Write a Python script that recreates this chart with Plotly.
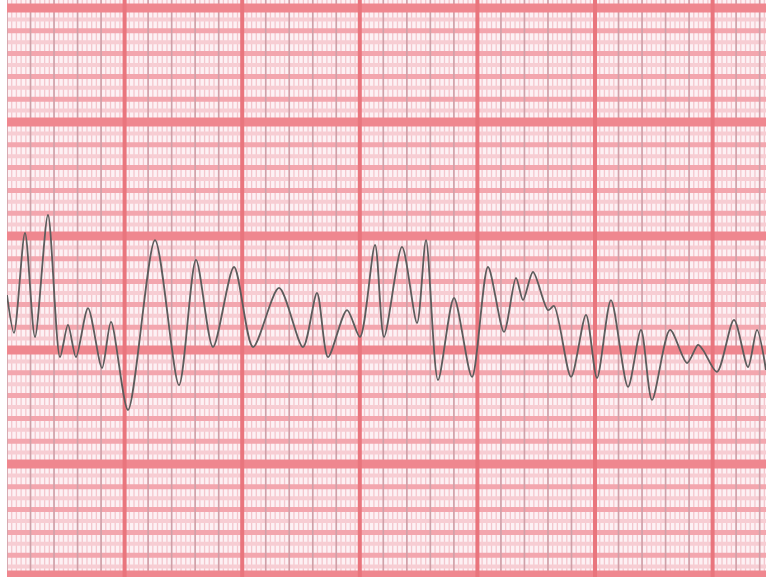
import numpy as np
import plotly.graph_objects as go

# Rhythm strip: turning points of the trace (time in s, amplitude in mV)
time_s = [0.0000, 0.0119, 0.0306, 0.0476, 0.0697, 0.0901, 0.1037, 0.1173, 0.1378,
          0.1616, 0.1769, 0.2058, 0.2517, 0.2925, 0.3214, 0.3503, 0.3861, 0.4184,
          0.4626, 0.5034, 0.5272, 0.5459, 0.5782, 0.6003, 0.6259, 0.6412, 0.6718,
          0.6973, 0.7126, 0.7330, 0.7602, 0.7908, 0.8180, 0.8452, 0.8656, 0.8776,
          0.8946, 0.9201, 0.9303, 0.9592, 0.9847, 1.0034, 1.0272, 1.0561, 1.0782,
          1.0969, 1.1276, 1.1565, 1.1752, 1.1837, 1.2075, 1.2364, 1.2602, 1.2755,
          1.2908]
amp_mv = [0.241, 0.075, 0.513, 0.057, 0.592, -0.031, 0.110, -0.031, 0.184,
          -0.079, 0.123, -0.263, 0.482, -0.154, 0.395, 0.013, 0.364, 0.013,
          0.272, 0.013, 0.250, -0.031, 0.175, 0.057, 0.461, 0.057, 0.452,
          0.118, 0.482, -0.132, 0.228, -0.118, 0.364, 0.079, 0.316, 0.219,
          0.342, 0.175, 0.193, -0.118, 0.154, -0.123, 0.219, -0.162, 0.088,
          -0.219, 0.088, -0.057, 0.022, 0.000, -0.096, 0.132, -0.075, 0.088,
          -0.088]

# Paper grid spacing (25 mm/s, 10 mm/mV)
major_t, minor_t, fine_t = 0.2, 0.04, 0.008
major_v, minor_v = 0.5, 0.1

x_range = [0.0, 1.2908]
y_range = [-0.9957, 1.535]

shapes = []


def vline(x, color, width):
    shapes.append(dict(type="line", xref="x", yref="y", x0=x, x1=x,
                       y0=y_range[0] - 0.1, y1=y_range[1] + 0.1,
                       line=dict(color=color, width=width), layer="below"))


def hline(y, color, width):
    shapes.append(dict(type="line", xref="x", yref="y", y0=y, y1=y,
                       x0=x_range[0] - 0.05, x1=x_range[1] + 0.05,
                       line=dict(color=color, width=width), layer="below"))


# finest vertical stripes
for x in np.arange(0, x_range[1] + 1e-9, fine_t):
    vline(x, "#f4c6cd", 1.3)

# half-millimetre horizontal bands
for y in np.arange(-1.0 + minor_v / 2, y_range[1], minor_v):
    hline(y, "#f7cdd3", 4)

# millimetre horizontal bands
for y in np.arange(-1.0, y_range[1] + 0.05, minor_v):
    hline(round(y, 3), "#f3a6ae", 5)

# millimetre vertical lines
for x in np.arange(0, x_range[1] + 1e-9, minor_t):
    vline(x, "#cfa0a8", 1.6)

# 5 mm horizontal lines
for y in np.arange(-1.0, y_range[1] + 0.05, major_v):
    w = 15 if abs(y + 1.0) < 1e-6 else 9
    hline(round(y, 3), "#ef878f", w)

# 5 mm vertical lines
for x in np.arange(major_t, x_range[1] + 1e-9, major_t):
    vline(x, "#e9757d", 4)

fig = go.Figure()
fig.add_trace(go.Scatter(
    x=time_s, y=amp_mv, mode="lines",
    line=dict(color="#5c5c5c", width=1.8, shape="spline", smoothing=0.8),
    hoverinfo="skip", showlegend=False,
))

fig.update_layout(
    width=766, height=577,
    margin=dict(l=7, r=0, t=0, b=0),
    paper_bgcolor="white",
    plot_bgcolor="#fdf1f4",
    shapes=shapes,
    xaxis=dict(range=x_range, visible=False, showgrid=False, zeroline=False,
               fixedrange=True),
    yaxis=dict(range=y_range, visible=False, showgrid=False, zeroline=False,
               fixedrange=True),
)

fig.write_html("out.html")
